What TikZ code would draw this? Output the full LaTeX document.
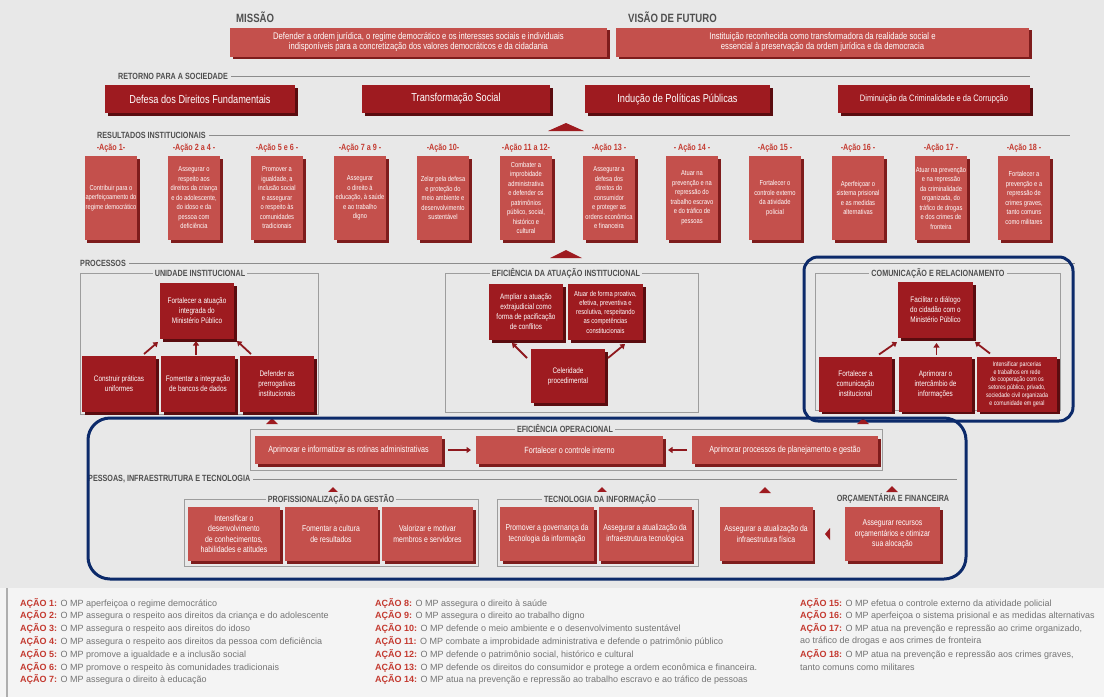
\documentclass[tikz,border=0pt]{standalone}
\usepackage{fontspec}
\setmainfont{Liberation Sans}
\newfontfamily\cond{Liberation Sans}[FakeStretch=0.8]
\newfontfamily\legf{Liberation Sans}
\usetikzlibrary{shadows,arrows.meta,calc}
\definecolor{bg}{HTML}{E8E8E8}
\definecolor{legbg}{HTML}{F4F4F4}
\definecolor{boxred}{HTML}{C4504C}
\definecolor{boxsh}{HTML}{7E1C1C}
\definecolor{darkred}{HTML}{9E1B20}
\definecolor{darksh}{HTML}{5A0C0F}
\definecolor{lblred}{HTML}{C43A30}
\definecolor{navy}{HTML}{0C2A6A}
\definecolor{hdr}{HTML}{4F4F4F}
\definecolor{rulec}{HTML}{8C8C8C}
\definecolor{legtxt}{HTML}{747474}
\tikzset{
  boxbase/.style={align=center, text=white, inner sep=1pt, outer sep=0pt},
  rbox/.style={boxbase, fill=boxred, drop shadow={shadow xshift=2.5pt, shadow yshift=-2.5pt, fill=boxsh, opacity=1}},
  dbox/.style={boxbase, fill=darkred, drop shadow={shadow xshift=2.5pt, shadow yshift=-2.5pt, fill=darksh, opacity=1}},
  resbox/.style={rbox, minimum width=52pt, minimum height=84pt, font=\cond\fontsize{7.2}{9.5}\selectfont},
  resl/.style={font=\cond\bfseries\fontsize{9}{10}\selectfont, text=lblred, inner sep=0pt},
  topbox/.style={rbox, minimum height=29pt, font=\cond\fontsize{9.6}{10.2}\selectfont},
  retbox/.style={dbox, minimum height=28pt, font=\cond\fontsize{11.5}{12}\selectfont},
  procbox/.style={dbox, font=\cond\fontsize{8}{10}\selectfont},
  opbox/.style={rbox, minimum height=28pt, font=\cond\fontsize{9}{10}\selectfont},
  pitbox/.style={rbox, minimum height=54pt, font=\cond\fontsize{8.6}{10.5}\selectfont},
  bighdr/.style={font=\cond\bfseries\fontsize{12}{13}\selectfont, text=hdr, anchor=west, inner sep=0pt},
  hdrtxt/.style={font=\cond\bfseries\fontsize{9}{10}\selectfont, text=hdr, anchor=west, inner sep=0pt},
  hline/.style={draw=rulec, line width=0.6pt},
  panel/.style={draw=rulec!85, line width=0.6pt},
  ptitle/.style={font=\cond\bfseries\fontsize{9}{10}\selectfont, text=hdr, fill=bg, inner sep=2pt},
  arr/.style={-{Triangle[length=4.5pt,width=6pt]}, line width=1.8pt, draw=darkred!90!black},
  navyframe/.style={draw=navy, line width=3pt},
  leg/.style={font=\legf\fontsize{9}{10}\selectfont, text=legtxt, anchor=west, inner sep=0pt},
}
\newcommand{\acao}[1]{\textcolor{lblred}{\bfseries AÇÃO #1:}}
\begin{document}
\begin{tikzpicture}[x=1pt,y=-1pt]
\useasboundingbox (0,0) rectangle (1104,697);
\fill[bg] (0,0) rectangle (1104,588);
\fill[legbg] (0,588) rectangle (1104,697);
\draw[rulec!70, line width=1.2pt] (7,588) -- (7,697);

% ---------- Mission / vision ----------
\node[bighdr] (hmis) at (236,17) {MISSÃO};
\node[bighdr] (hvis) at (628,17) {VISÃO DE FUTURO};
\node[topbox, minimum width=377pt] (mis) at (418.5,42) {Defender a ordem jurídica, o regime democrático e os interesses sociais e individuais\\indisponíveis para a concretização dos valores democráticos e da cidadania};
\node[topbox, minimum width=413pt] (vis) at (822.5,42) {Instituição reconhecida como transformadora da realidade social e\\essencial à preservação da ordem jurídica e da democracia};

% ---------- Retorno ----------
\node[hdrtxt] (hret) at (118,76) {RETORNO PARA A SOCIEDADE};
\coordinate (retend) at (1030,76);
\draw[hline] ($(hret.east)+(3,0)$) -- (retend);
\node[retbox, minimum width=190pt] (ret1) at (200,99) {Defesa dos Direitos Fundamentais};
\node[retbox, minimum width=188pt] (ret2) at (456,99) {Transformação Social};
\node[retbox, minimum width=185pt] (ret3) at (677.5,99) {Indução de Políticas Públicas};
\node[retbox, minimum width=192pt, font=\cond\fontsize{9.3}{10}\selectfont] (ret4) at (934,99) {Diminuição da Criminalidade e da Corrupção};
\fill[darkred] (548,131) -- (584,131) -- (566,123) -- cycle;

% ---------- Resultados ----------
\node[hdrtxt] (hres) at (97,135) {RESULTADOS INSTITUCIONAIS};
\coordinate (resend) at (1070,135);
\draw[hline] ($(hres.east)+(3,0)$) -- (resend);
\foreach \i/\lab [count=\k from 0] in {1/{-Ação 1-},2/{-Ação 2 a 4 -},3/{-Ação 5 e 6 -},4/{-Ação 7 a 9 -},5/{-Ação 10-},6/{-Ação 11 a 12-},7/{-Ação 13 -},8/{- Ação 14 -},9/{-Ação 15 -},10/{-Ação 16 -},11/{-Ação 17 -},12/{-Ação 18 -}}
  \node[resl] (l\i) at (111+83*\k,148) {\lab};
\node[resbox] (r1) at (111,198) {Contribuir para o\\aperfeiçoamento do\\regime democrático};
\node[resbox] (r2) at (194,198) {Assegurar o\\respeito aos\\direitos da criança\\e do adolescente,\\do idoso e da\\pessoa com\\deficiência};
\node[resbox] (r3) at (277,198) {Promover a\\igualdade, a\\inclusão social\\e assegurar\\o respeito às\\comunidades\\tradicionais};
\node[resbox] (r4) at (360,198) {Assegurar\\o direito à\\educação, à saúde\\e ao trabalho\\digno};
\node[resbox] (r5) at (443,198) {Zelar pela defesa\\e proteção do\\meio ambiente e\\desenvolvimento\\sustentável};
\node[resbox] (r6) at (526,198) {Combater a\\improbidade\\administrativa\\e defender os\\patrimônios\\público, social,\\histórico e\\cultural};
\node[resbox] (r7) at (609,198) {Assegurar a\\defesa dos\\direitos do\\consumidor\\e proteger as\\ordens econômica\\e financeira};
\node[resbox] (r8) at (692,198) {Atuar na\\prevenção e na\\repressão do\\trabalho escravo\\e do tráfico de\\pessoas};
\node[resbox] (r9) at (775,198) {Fortalecer o\\controle externo\\da atividade\\policial};
\node[resbox] (r10) at (858,198) {Aperfeiçoar o\\sistema prisional\\e as medidas\\alternativas};
\node[resbox] (r11) at (941,198) {Atuar na prevenção\\e na repressão\\da criminalidade\\organizada, do\\tráfico de drogas\\e dos crimes de\\fronteira};
\node[resbox] (r12) at (1024,198) {Fortalecer a\\prevenção e a\\repressão de\\crimes graves,\\tanto comuns\\como militares};
\fill[darkred] (550,258) -- (582,258) -- (566,250) -- cycle;

% ---------- Processos ----------
\node[hdrtxt] (hproc) at (80,263) {PROCESSOS};
\coordinate (procend) at (1075,263);
\draw[hline] ($(hproc.east)+(3,0)$) -- (procend);

% Unidade institucional
\draw[panel] (80,273) rectangle (318,414);
\node[ptitle] (tui) at (200,273) {UNIDADE INSTITUCIONAL};
\node[procbox, minimum width=74pt, minimum height=56pt] (ut) at (197,311) {Fortalecer a atuação\\integrada do\\Ministério Público};
\node[procbox, minimum width=74pt, minimum height=56pt] (u1) at (119,384) {Construir práticas\\uniformes};
\node[procbox, minimum width=74pt, minimum height=56pt] (u2) at (198,384) {Fomentar a integração\\de bancos de dados};
\node[procbox, minimum width=74pt, minimum height=56pt] (u3) at (277,384) {Defender as\\prerrogativas\\institucionais};
\draw[arr] ($(u1.north east)+(-12,-2)$) -- ($(ut.south west)+(-2,3)$);
\draw[arr] ($(u2.north)+(-2,-1)$) -- ($(ut.south)+(-1,2)$);
\draw[arr] ($(u3.north west)+(11,-2)$) -- ($(ut.south east)+(3,2)$);

% Eficiencia da atuacao institucional
\draw[panel] (445,273) rectangle (698,412);
\node[ptitle] (tea) at (566,273) {EFICIÊNCIA DA ATUAÇÃO INSTITUCIONAL};
\node[procbox, minimum width=74pt, minimum height=56pt] (a1) at (526,312) {Ampliar a atuação\\extrajudicial como\\forma de pacificação\\de conflitos};
\node[procbox, minimum width=75pt, minimum height=56pt, font=\cond\fontsize{7.3}{9.3}\selectfont] (a2) at (605.5,312) {Atuar de forma proativa,\\efetiva, preventiva e\\resolutiva, respeitando\\as competências\\constitucionais};
\node[procbox, minimum width=74pt, minimum height=54pt] (cel) at (568,376) {Celeridade\\procedimental};
\draw[arr] ($(cel.north west)+(-4,9)$) -- ($(a1.south west)+(23,3)$);
\draw[arr] ($(cel.north east)+(3,9)$) -- ($(a2.south)+(19.5,4)$);

% Comunicacao e relacionamento
\draw[panel] (815,273) rectangle (1060,410);
\node[ptitle] (tcr) at (938,273) {COMUNICAÇÃO E RELACIONAMENTO};
\node[procbox, minimum width=75pt, minimum height=56pt] (ct) at (935.5,310) {Facilitar o diálogo\\do cidadão com o\\Ministério Público};
\node[procbox, minimum width=73pt, minimum height=55pt] (c1) at (855.5,384) {Fortalecer a\\comunicação\\institucional};
\node[procbox, minimum width=73pt, minimum height=55pt] (c2) at (935.5,384) {Aprimorar o\\intercâmbio de\\informações};
\node[procbox, minimum width=80pt, minimum height=55pt, font=\cond\fontsize{6.6}{7.8}\selectfont] (c3) at (1017,384) {Intensificar parcerias\\e trabalhos em rede\\de cooperação com os\\setores público, privado,\\sociedade civil organizada\\e comunidade em geral};
\draw[arr] ($(c1.north east)+(-13,-2)$) -- ($(ct.south west)+(-1,4)$);
\draw[arr] ($(c2.north)+(1,-2)$) -- ($(ct.south)+(1,5)$);
\draw[arr] ($(c3.north west)+(13,-3)$) -- ($(ct.south east)+(2,4)$);
\draw[navyframe, rounded corners=14pt] (804,257) rectangle (1073,421);

% ---------- Eficiencia operacional ----------
\fill[darkred] (266,424) -- (278,424) -- (272,418) -- cycle;
\fill[darkred] (857,424) -- (869,424) -- (863,418) -- cycle;
\draw[panel] (250,429) rectangle (882,470);
\node[ptitle] (teo) at (565,429) {EFICIÊNCIA OPERACIONAL};
\node[opbox, minimum width=187pt] (o1) at (348.5,450) {Aprimorar e informatizar as rotinas administrativas};
\node[opbox, minimum width=187pt] (o2) at (569.5,450) {Fortalecer o controle interno};
\node[opbox, minimum width=186pt] (o3) at (785,450) {Aprimorar processos de planejamento e gestão};
\draw[arr] ($(o1.east)+(6,0)$) -- ($(o2.west)+(-5,0)$);
\draw[arr] ($(o3.west)+(-5,0)$) -- ($(o2.east)+(5,0)$);

% ---------- Pessoas, infraestrutura e tecnologia ----------
\node[hdrtxt] (hpes) at (88,479) {PESSOAS, INFRAESTRUTURA E TECNOLOGIA};
\coordinate (pesend) at (957,479);
\draw[hline] ($(hpes.east)+(3,0)$) -- (pesend);

\fill[darkred] (327,493) -- (339,493) -- (333,487) -- cycle;
\draw[panel] (184,499) rectangle (478,566);
\node[ptitle] (tpg) at (331,499) {PROFISSIONALIZAÇÃO DA GESTÃO};
\node[pitbox, minimum width=92pt] (p1) at (234,534) {Intensificar o\\desenvolvimento\\de conhecimentos,\\habilidades e atitudes};
\node[pitbox, minimum width=93pt] (p2) at (331,534) {Fomentar a cultura\\de resultados};
\node[pitbox, minimum width=91pt] (p3) at (427.5,534) {Valorizar e motivar\\membros e servidores};

\fill[darkred] (596,493) -- (608,493) -- (602,487) -- cycle;
\draw[panel] (497,499) rectangle (698,566);
\node[ptitle] (tti) at (600,499) {TECNOLOGIA DA INFORMAÇÃO};
\node[pitbox, minimum width=94pt] (t1) at (547,534) {Promover a governança da\\tecnologia da informação};
\node[pitbox, minimum width=93pt] (t2) at (645,534) {Assegurar a atualização da\\infraestrutura tecnológica};

\fill[darkred] (759,493) -- (771,493) -- (765,487) -- cycle;
\node[pitbox, minimum width=93pt] (f1) at (766,534) {Assegurar a atualização da\\infraestrutura física};
\fill[darkred] (825,534) -- (830,528) -- (830,540) -- cycle;

\fill[darkred] (886,492) -- (898,492) -- (892,486) -- cycle;
\node[ptitle, fill=none] (tof) at (893,498) {ORÇAMENTÁRIA E FINANCEIRA};
\node[pitbox, minimum width=95pt] (fin) at (892.5,534) {Assegurar recursos\\orçamentários e otimizar\\sua alocação};

\draw[navyframe, rounded corners=22pt] (88,418) rectangle (966,579);

% ---------- Legenda ----------
\node[leg] (g1) at (20,603) {\acao{1} O MP aperfeiçoa o regime democrático};
\node[leg] (g2) at (20,615.8) {\acao{2} O MP assegura o respeito aos direitos da criança e do adolescente};
\node[leg] (g3) at (20,628.6) {\acao{3} O MP assegura o respeito aos direitos do idoso};
\node[leg] (g4) at (20,641.4) {\acao{4} O MP assegura o respeito aos direitos da pessoa com deficiência};
\node[leg] (g5) at (20,654.2) {\acao{5} O MP promove a igualdade e a inclusão social};
\node[leg] (g6) at (20,667) {\acao{6} O MP promove o respeito às comunidades tradicionais};
\node[leg] (g7) at (20,679.8) {\acao{7} O MP assegura o direito à educação};
\node[leg] (g8) at (375,603) {\acao{8} O MP assegura o direito à saúde};
\node[leg] (g9) at (375,615.8) {\acao{9} O MP assegura o direito ao trabalho digno};
\node[leg] (g10) at (375,628.6) {\acao{10} O MP defende o meio ambiente e o desenvolvimento sustentável};
\node[leg] (g11) at (375,641.4) {\acao{11} O MP combate a improbidade administrativa e defende o patrimônio público};
\node[leg] (g12) at (375,654.2) {\acao{12} O MP defende o patrimônio social, histórico e cultural};
\node[leg] (g13) at (375,667) {\acao{13} O MP defende os direitos do consumidor e protege a ordem econômica e financeira.};
\node[leg] (g14) at (375,679.8) {\acao{14} O MP atua na prevenção e repressão ao trabalho escravo e ao tráfico de pessoas};
\node[leg] (g15) at (800,603) {\acao{15} O MP efetua o controle externo da atividade policial};
\node[leg] (g16) at (800,615.8) {\acao{16} O MP aperfeiçoa o sistema prisional e as medidas alternativas};
\node[leg] (g17) at (800,628.6) {\acao{17} O MP atua na prevenção e repressão ao crime organizado,};
\node[leg] (g17b) at (800,641.4) {ao tráfico de drogas e aos crimes de fronteira};
\node[leg] (g18) at (800,654.2) {\acao{18} O MP atua na prevenção e repressão aos crimes graves,};
\node[leg] (g18b) at (800,667) {tanto comuns como militares};
\end{tikzpicture}
\end{document}
